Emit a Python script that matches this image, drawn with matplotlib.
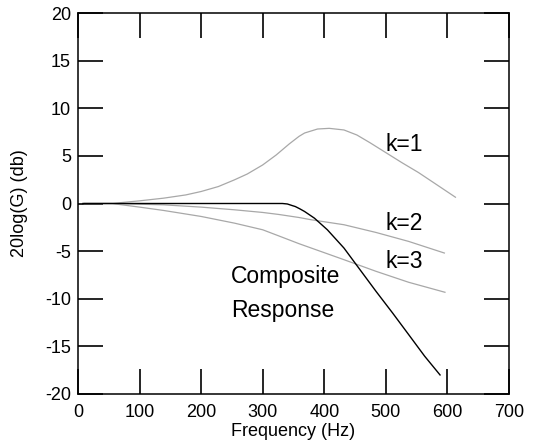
import matplotlib
matplotlib.use("Agg")
import matplotlib.pyplot as plt

plt.rcParams['font.family'] = ['Liberation Sans', 'DejaVu Sans']

k1_f = [10, 55, 100, 139, 175, 200, 228, 254, 275, 300, 322, 343, 359, 368, 389,
        408, 432, 453, 474, 500, 526, 553, 579, 613]
k1_db = [0, 0, 0.28, 0.56, 0.9, 1.26, 1.78, 2.48, 3.1, 4.05, 5.1, 6.25, 7.05, 7.4, 7.82,
         7.89, 7.72, 7.19, 6.39, 5.34, 4.29, 3.25, 2.13, 0.66]

k2_f = [10, 55, 139, 200, 254, 300, 326, 359, 379, 432, 484, 537, 595]
k2_db = [0, 0, -0.14, -0.38, -0.66, -0.94, -1.15, -1.47, -1.71, -2.23, -3.04, -3.98, -5.2]

k3_f = [10, 55, 100, 139, 200, 254, 300, 326, 359, 379, 432, 484, 537, 596]
k3_db = [0, 0, -0.38, -0.73, -1.36, -2.06, -2.76, -3.4, -4.22, -4.68, -5.9, -7.12, -8.27, -9.32]

comp_f = [8, 332, 340, 348, 353, 360, 368, 384, 405, 432, 458, 484, 511, 537, 563, 588]
comp_db = [0, 0, -0.05, -0.22, -0.32, -0.55, -0.84, -1.54, -2.76, -4.68, -6.95, -9.22,
           -11.5, -13.76, -16.03, -18.0]

xticks = [0, 100, 200, 300, 400, 500, 600, 700]
yticks = [-20, -15, -10, -5, 0, 5, 10, 15, 20]

fig = plt.figure(figsize=(5.41, 4.46), dpi=100)
ax = fig.add_axes([78/541, 1 - 394/446, (509-78)/541, (394-13)/446])

gray = '#a8a8a8'
ax.plot(k1_f, k1_db, color=gray, lw=0.9)
ax.plot(k2_f, k2_db, color=gray, lw=0.9)
ax.plot(k3_f, k3_db, color=gray, lw=0.9)
ax.plot(comp_f, comp_db, color='black', lw=1.0)

ax.set_xlim(0, 700)
ax.set_ylim(-20, 20)
ax.set_xticks(xticks)
ax.set_yticks(yticks)
ax.set_xticklabels([str(v) for v in xticks])
ax.set_yticklabels([str(v) for v in yticks])
ax.tick_params(which='major', direction='in', length=18, width=1.2, color='black',
               bottom=True, top=True, left=True, right=True,
               labelsize=13, labelcolor='black')
ax.tick_params(axis='x', pad=7)
ax.tick_params(axis='y', pad=5)
for s in ax.spines.values():
    s.set_linewidth(1.1)
    s.set_color('black')

ax.set_xlabel('Frequency (Hz)', fontsize=13, labelpad=2)
ax.set_ylabel('20log(G) (db)', fontsize=13, labelpad=12)

fs = 16.5
ax.text(500, 6.15, 'k=1', fontsize=fs, va='center', ha='left')
ax.text(500, -2.05, 'k=2', fontsize=fs, va='center', ha='left')
ax.text(500, -6.05, 'k=3', fontsize=fs, va='center', ha='left')
ax.text(249, -7.65, 'Composite', fontsize=fs, va='center', ha='left')
ax.text(249, -11.25, 'Response', fontsize=fs, va='center', ha='left')

fig.savefig('out.png', dpi=100)
